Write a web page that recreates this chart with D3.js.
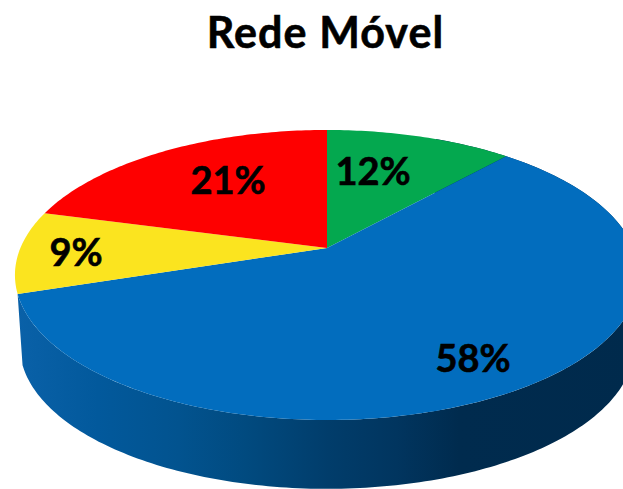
<!DOCTYPE html>
<meta charset="utf-8">
<style>

body {
	margin: 0;
	background-color: #fff;
}

svg {
	display: block;
}

text {
	font-family: 'Lato', sans-serif;
	font-weight: bold;
	fill: #000;
	stroke: #000;
	stroke-width: 0.6px;
	text-anchor: middle;
}

</style>
<body>

<svg width="623" height="489"></svg>

<script src="https://d3js.org/d3.v7.min.js"></script>

<script>

var categories = ["Verde", "Azul", "Amarelo", "Vermelho"];
var values = [11.6, 58.4, 9.2, 20.8];
var labels = ["12%", "58%", "9%", "21%"];
var colors = ["#04a84f", "#026dbe", "#fbe41f", "#fe0000"];

var svg = d3.select("svg");

// tilted disc: apex of the pie, radii and perspective
var cx = 327, cy = 248, rx = 306.6, ry = 140, persp = 0.186, depth = 72;

function project(a, scale, dy) {
	var u = Math.sin(a) * scale,
		v = Math.cos(a) * scale,
		w = 1 + persp * v;
	return [cx + rx * u / w, cy - ry * v / w + dy];
}

function arcPoints(a0, a1, scale, dy) {
	var n = Math.ceil(Math.abs(a1 - a0) * 60);
	return d3.range(n + 1).map(function(i) {
		return project(a0 + (a1 - a0) * i / n, scale, dy);
	});
}

var pie = d3.pie().sort(null).value(function(d) { return d; });
var arcs = pie(values);
var line = d3.line();

// side wall under the blue slice
var grad = svg.append("defs").append("linearGradient")
	.attr("id", "wall")
	.attr("gradientUnits", "userSpaceOnUse")
	.attr("x1", 17).attr("x2", 640).attr("y1", 0).attr("y2", 0);

[[0, "#0a61a8"], [0.13, "#02599c"], [0.26, "#02538f"], [0.37, "#014a7f"], [0.5, "#013d6b"], [0.61, "#01355f"], [0.71, "#002b4e"], [1, "#002a4c"]]
	.forEach(function(s) {
		grad.append("stop").attr("offset", s[0]).attr("stop-color", s[1]);
	});

var blue = arcs[1];
var wallTop = arcPoints(blue.endAngle, blue.startAngle - 0.3, 1, 0);
var wallBottom = arcPoints(blue.startAngle - 0.3, blue.endAngle, 0.985, depth);

svg.append("path")
	.attr("d", line(wallTop.concat(wallBottom)) + "Z")
	.style("fill", "url(#wall)");

// top face
svg.selectAll(".slice")
	.data(arcs)
	.enter().append("path")
	.attr("class", "slice")
	.attr("d", function(d) {
		return line([[cx, cy]].concat(arcPoints(d.startAngle, d.endAngle, 1, 0))) + "Z";
	})
	.style("fill", function(d, i) { return colors[i]; });

svg.append("text")
	.attr("x", 325.5)
	.attr("y", 48)
	.style("font-size", "43px")
	.style("letter-spacing", "1.1px")
	.text("Rede Móvel");

var labelPos = [[373, 185], [473, 372], [76, 266], [228, 194]];

svg.selectAll(".label")
	.data(labels)
	.enter().append("text")
	.attr("class", "label")
	.attr("x", function(d, i) { return labelPos[i][0]; })
	.attr("y", function(d, i) { return labelPos[i][1]; })
	.style("font-size", "38px")
	.text(function(d) { return d; });

</script>
